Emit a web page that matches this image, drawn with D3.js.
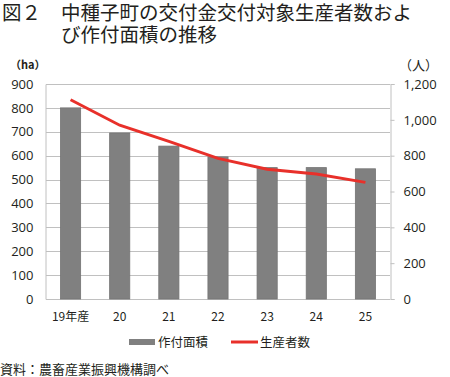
<!DOCTYPE html>
<html>
  <head>
    <meta charset="utf-8">
    <title>中種子町の交付金交付対象生産者数および作付面積の推移</title>
    <script src="https://d3js.org/d3.v7.min.js"></script>
    <style>
      body { margin: 0; background: #fff; }
      text { font-family: "Noto Sans CJK JP", "Noto Sans", sans-serif; fill: #231f20; }
    </style>
  </head>
  <body>
    <script>
      let years = ['19年産', '20', '21', '22', '23', '24', '25']
      let area = [800, 695, 640, 595, 550, 550, 545]
      let growers = [1112, 970, 880, 785, 724, 698, 651]
      let leftTicks = [0, 100, 200, 300, 400, 500, 600, 700, 800, 900]
      let rightTicks = [0, 200, 400, 600, 800, 1000, 1200]

      let width = 450, height = 377
      let plotLeft = 46, plotRight = 390, plotTop = 84, plotBottom = 299

      let svg = d3.select('body').append('svg')
                  .attr('width', width)
                  .attr('height', height)

      // title
      svg.append('text').attr('x', 2).attr('y', 20)
         .style('font-size', '19.5px')
         .text('図２')
      svg.append('text').attr('x', 61).attr('y', 20)
         .style('font-size', '19.5px')
         .text('中種子町の交付金交付対象生産者数およ')
      svg.append('text').attr('x', 61).attr('y', 42)
         .style('font-size', '19.5px')
         .text('び作付面積の推移')

      let xScale = d3.scaleBand().domain(years).range([plotLeft, plotRight]).paddingInner(0.59).paddingOuter(0.295)
      let yLeft = d3.scaleLinear().domain([0, 900]).range([plotBottom, plotTop])
      let yRight = d3.scaleLinear().domain([0, 1200]).range([plotBottom, plotTop])

      // gridlines
      svg.append('g').selectAll('line').data(leftTicks).enter().append('line')
         .attr('x1', plotLeft).attr('x2', plotRight)
         .attr('y1', d => Math.round(yLeft(d)) + 0.5).attr('y2', d => Math.round(yLeft(d)) + 0.5)
         .attr('stroke', '#c0c0c0').attr('stroke-width', 1)

      // left axis
      let gl = svg.append('g').attr('transform', `translate(${plotLeft - 0.5}, 0)`)
                  .call(d3.axisLeft(yLeft).tickValues(leftTicks).tickSize(0).tickPadding(12))
      gl.select('.domain').attr('stroke', '#c0c0c0')
      gl.selectAll('text').style('font-family', '"Open Sans", "Noto Sans", sans-serif')
        .style('font-size', '13px').attr('fill', '#231f20')

      // right axis
      let gr = svg.append('g').attr('transform', `translate(${plotRight + 0.5}, 0)`)
                  .call(d3.axisRight(yRight).tickValues(rightTicks).tickSize(4).tickPadding(9)
                          .tickFormat(d3.format(',')))
      gr.select('.domain').attr('stroke', '#c0c0c0')
      gr.selectAll('line').attr('stroke', '#c0c0c0')
      gr.selectAll('text').style('font-family', '"Open Sans", "Noto Sans", sans-serif')
        .style('font-size', '13px').attr('fill', '#231f20')

      // unit labels
      svg.append('text').attr('x', 10).attr('y', 69).style('font-size', '11px').style('font-weight', 'bold').text('（ha）')
      svg.append('text').attr('x', 399).attr('y', 70).style('font-size', '13px').text('（人）')

      // bars
      svg.append('g').selectAll('rect').data(area).enter().append('rect')
         .attr('x', (d, i) => xScale(years[i]))
         .attr('y', d => yLeft(d))
         .attr('width', xScale.bandwidth())
         .attr('height', d => plotBottom - yLeft(d))
         .attr('fill', '#808080')
         .attr('stroke', '#747474').attr('stroke-width', 0.8)

      // line
      let line = d3.line()
                   .x((d, i) => xScale(years[i]) + xScale.bandwidth() / 2)
                   .y(d => yRight(d))
      svg.append('path').datum(growers)
         .attr('d', line)
         .attr('fill', 'none')
         .attr('stroke', '#e8302a')
         .attr('stroke-width', 3)

      // x labels
      svg.append('g').selectAll('text').data(years).enter().append('text')
         .attr('x', d => xScale(d) + xScale.bandwidth() / 2)
         .attr('y', 321)
         .attr('text-anchor', 'middle')
         .style('font-size', '12px')
         .text(d => d)

      // legend
      svg.append('rect').attr('x', 129).attr('y', 339).attr('width', 26).attr('height', 6).attr('fill', '#808080')
      svg.append('text').attr('x', 158).attr('y', 347).style('font-size', '12.5px').text('作付面積')
      svg.append('line').attr('x1', 231).attr('x2', 258).attr('y1', 342).attr('y2', 342)
         .attr('stroke', '#e8302a').attr('stroke-width', 3)
      svg.append('text').attr('x', 260).attr('y', 347).style('font-size', '12.5px').text('生産者数')

      // source
      svg.append('text').attr('x', 0).attr('y', 374).style('font-size', '13px').text('資料：農畜産業振興機構調べ')
    </script>
  </body>
</html>
